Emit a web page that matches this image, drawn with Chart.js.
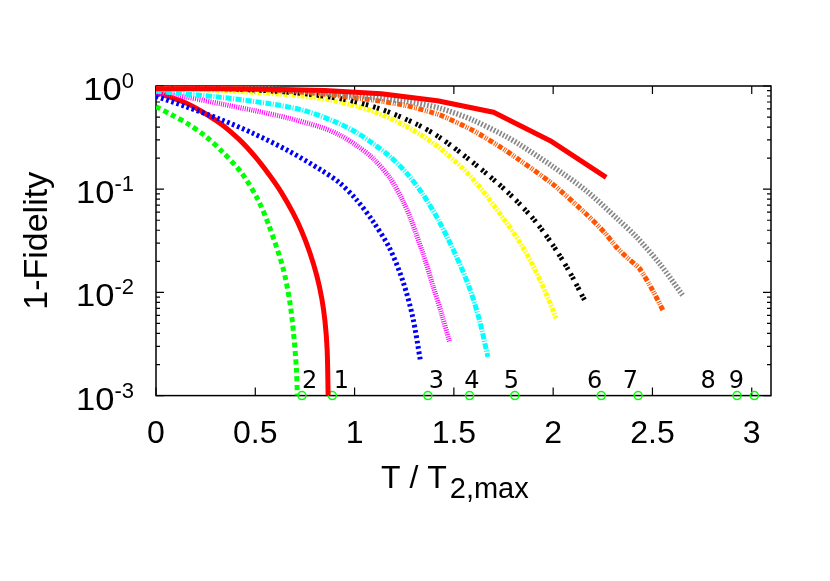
<!DOCTYPE html>
<html><head><meta charset="utf-8">
<script src="https://cdn.jsdelivr.net/npm/chart.js@4.4.1/dist/chart.umd.min.js"></script>
<style>html,body{margin:0;padding:0;background:#fff}#wrap{width:830px;height:581px;position:relative}</style>
</head><body><div id="wrap"><canvas id="c"></canvas></div>
<script>
// ---- tick labels / titles ----
const xTickValues = [0, 0.5, 1, 1.5, 2, 2.5, 3];
const xTickLabels = ['0', '0.5', '1', '1.5', '2', '2.5', '3'];
const yTickValues = [1, 0.1, 0.01, 0.001];
const yTickBase = '10';
const yTickExponents = ['0', '-1', '-2', '-3'];
const xTitleMain = 'T / T';
const xTitleSub = '2,max';
const yTitle = '1-Fidelity';

// ---- series (x = T/T2,max, y = 1-Fidelity) ----
const red1X = [0, 0.145, 0.22, 0.329, 0.42, 0.497, 0.57, 0.631, 0.69, 0.732, 0.774, 0.81, 0.835, 0.851, 0.862, 0.867];
const red1Y = [0.871, 0.692, 0.582, 0.427, 0.302, 0.209, 0.138, 0.0933, 0.0589, 0.0398, 0.0245, 0.01445, 0.0087, 0.00525, 0.00275, 0.00095];

const greenX = [0, 0.08, 0.161, 0.245, 0.329, 0.430, 0.513, 0.572, 0.639, 0.673, 0.693, 0.707, 0.712];
const greenY = [0.631, 0.524, 0.429, 0.331, 0.236, 0.1445, 0.0794, 0.0427, 0.0174, 0.0083, 0.00398, 0.00182, 0.00095];

const blueX = [0, 0.15, 0.32, 0.49, 0.664, 0.832, 0.925, 1.009, 1.092, 1.176, 1.243, 1.293, 1.331];
const blueY = [0.794, 0.631, 0.479, 0.347, 0.237, 0.153, 0.115, 0.0794, 0.049, 0.0269, 0.0129, 0.00575, 0.00221];

const magentaX = [0, 0.161, 0.329, 0.497, 0.664, 0.832, 0.925, 1.009, 1.092, 1.176, 1.243, 1.285, 1.344, 1.394, 1.44, 1.478];
const magentaY = [0.861, 0.776, 0.67, 0.577, 0.49, 0.398, 0.335, 0.266, 0.1995, 0.130, 0.0774, 0.0501, 0.0239, 0.01175, 0.00603, 0.00333];

const cyanX = [0, 0.329, 0.581, 0.748, 0.9, 1.009, 1.092, 1.176, 1.26, 1.344, 1.428, 1.512, 1.579, 1.629, 1.671];
const cyanY = [0.891, 0.776, 0.67, 0.577, 0.452, 0.355, 0.277, 0.209, 0.1445, 0.0891, 0.0479, 0.0224, 0.011, 0.00537, 0.00238];

const yellowX = [0, 0.4, 0.8, 1.0, 1.1, 1.26, 1.428, 1.595, 1.763, 1.847, 1.914, 1.973, 2.015];
const yellowY = [0.955, 0.891, 0.776, 0.646, 0.562, 0.407, 0.251, 0.126, 0.0479, 0.0275, 0.01585, 0.00891, 0.00562];

const blackX = [0, 0.4, 0.7, 0.95, 1.126, 1.31, 1.428, 1.595, 1.763, 1.897, 1.998, 2.082, 2.158];
const blackY = [0.977, 0.933, 0.861, 0.741, 0.603, 0.429, 0.318, 0.182, 0.0966, 0.0525, 0.0288, 0.01585, 0.00843];

const orangeX = [0, 0.5, 0.8, 1.092, 1.26, 1.428, 1.595, 1.763, 1.998, 2.166, 2.258, 2.317, 2.367, 2.434, 2.501, 2.552];
const orangeY = [0.989, 0.933, 0.851, 0.731, 0.646, 0.525, 0.372, 0.236, 0.112, 0.0575, 0.0382, 0.0277, 0.0222, 0.0171, 0.0105, 0.00675];

const greyX = [0, 0.5, 0.925, 1.26, 1.428, 1.595, 1.763, 1.83, 1.998, 2.166, 2.325, 2.418, 2.535, 2.652];
const greyY = [0.993, 0.955, 0.832, 0.708, 0.61, 0.468, 0.324, 0.272, 0.166, 0.0968, 0.0513, 0.0347, 0.0191, 0.0094];

const red2X = [0, 0.283, 0.567, 0.85, 1.134, 1.417, 1.70, 1.985, 2.267];
const red2Y = [0.94, 0.94, 0.93, 0.905, 0.84, 0.72, 0.556, 0.295, 0.130];

// ---- markers on the bottom axis and their labels ----
const markerX = [0.735, 0.888, 1.369, 1.579, 1.807, 2.242, 2.428, 2.926, 3.013];
const markerY = 0.001;
const markerLabels = ['2', '1', '3', '4', '5', '6', '7', '8', '9'];
const markerLabelX = [0.774, 0.934, 1.412, 1.591, 1.790, 2.209, 2.389, 2.780, 2.923];

const pts = (xs, ys) => xs.map((x, i) => ({x: x, y: ys[i]}));

function series(xs, ys, color, width, dash, tension, clip) {
  return {
    type: 'line', data: pts(xs, ys), borderColor: color, backgroundColor: color,
    borderWidth: width, borderDash: dash, borderCapStyle: 'butt', borderJoinStyle: 'round',
    pointRadius: 0, fill: false, tension: tension, clip: clip
  };
}

const FONT = '"Liberation Sans", Arial, Helvetica, sans-serif';

const decor = {
  id: 'decor',
  beforeDatasetsDraw(chart) {
    const ctx = chart.ctx, a = chart.chartArea, xs = chart.scales.x, ys = chart.scales.y;
    ctx.save();
    ctx.strokeStyle = '#000'; ctx.lineWidth = 1.5;
    ctx.strokeRect(a.left, a.top, a.right - a.left, a.bottom - a.top);
    ctx.lineWidth = 1.2;
    ctx.beginPath();
    xTickValues.forEach(v => {
      const px = xs.getPixelForValue(v);
      ctx.moveTo(px, a.bottom); ctx.lineTo(px, a.bottom - 8);
      ctx.moveTo(px, a.top); ctx.lineTo(px, a.top + 8);
    });
    yTickValues.forEach(v => {
      const py = ys.getPixelForValue(v);
      ctx.moveTo(a.left, py); ctx.lineTo(a.left + 8, py);
      ctx.moveTo(a.right, py); ctx.lineTo(a.right - 8, py);
      if (v < 1) {
        for (let m = 2; m <= 9; m++) {
          const pm = ys.getPixelForValue(v * m);
          ctx.moveTo(a.left, pm); ctx.lineTo(a.left + 4, pm);
          ctx.moveTo(a.right, pm); ctx.lineTo(a.right - 4, pm);
        }
      }
    });
    ctx.stroke();
    ctx.restore();
  },
  afterDraw(chart) {
    const ctx = chart.ctx, a = chart.chartArea, xs = chart.scales.x, ys = chart.scales.y;
    ctx.save();
    ctx.fillStyle = '#000';
    // x tick labels
    ctx.font = '32px ' + FONT; ctx.textAlign = 'center'; ctx.textBaseline = 'alphabetic';
    xTickValues.forEach((v, i) => ctx.fillText(xTickLabels[i], xs.getPixelForValue(v), 443));
    // y tick labels 10^n
    yTickValues.forEach((v, i) => {
      const py = ys.getPixelForValue(v);
      const right = 134;
      ctx.font = '22px ' + FONT; ctx.textAlign = 'right';
      const sw = ctx.measureText(yTickExponents[i]).width;
      ctx.fillText(yTickExponents[i], right, py + 2);
      ctx.save();
      ctx.translate(right - sw, py + 14);
      ctx.scale(1.08, 1);
      ctx.font = '32px ' + FONT;
      ctx.fillText(yTickBase, 0, 0);
      ctx.restore();
    });
    // x title with subscript
    ctx.textAlign = 'left';
    ctx.font = '32px ' + FONT;
    const mw = ctx.measureText(xTitleMain).width;
    const tx = 381;
    ctx.fillText(xTitleMain, tx, 488);
    ctx.font = '29px ' + FONT;
    ctx.fillText(xTitleSub, tx + mw + 3, 498);
    // y title
    ctx.save();
    ctx.translate(47, (a.top + a.bottom) / 2);
    ctx.rotate(-Math.PI / 2);
    ctx.font = '34px ' + FONT; ctx.textAlign = 'center';
    ctx.fillText(yTitle, 0, 0);
    ctx.restore();
    // marker labels
    ctx.font = '24px "DejaVu Sans", sans-serif'; ctx.textAlign = 'center';
    const by = ys.getPixelForValue(markerY) - 8;
    markerLabels.forEach((t, i) => ctx.fillText(t, xs.getPixelForValue(markerLabelX[i]), by));
    ctx.restore();
  }
};

new Chart(document.getElementById('c'), {
  type: 'line',
  data: {
    datasets: [
      series(red2X, red2Y, '#ff0000', 5, [], 0, 3),
      series(greyX, greyY, '#888888', 5.5, [1.7, 1.7], 0.3, 0),
      series(orangeX, orangeY, '#ff5500', 5, [5, 1.5, 1, 1, 1, 1.5], 0.2, 0),
      series(blackX, blackY, '#000000', 5, [2.5, 1.5, 2.5, 5], 0.3, 0),
      series(yellowX, yellowY, '#ffff00', 5, [4, 1.5, 1.5, 1.5], 0.3, 0),
      series(cyanX, cyanY, '#00ffff', 5, [6, 1.5, 1, 1.5], 0.3, 0),
      series(magentaX, magentaY, '#ff00ff', 5, [1, 1.2], 0.3, 0),
      series(blueX, blueY, '#0000ff', 5, [2.7, 2.7], 0.3, 0),
      series(red1X, red1Y, '#ff0000', 5, [], 0.3, 0),
      series(greenX, greenY, '#00ff00', 5, [5, 3.5], 0.3, 0),
      {
        type: 'scatter', data: markerX.map(x => ({x: x, y: markerY})),
        showLine: false, pointStyle: 'circle', pointRadius: 4,
        borderColor: '#00ff00', backgroundColor: 'rgba(0,0,0,0)', borderWidth: 1.5,
        pointHoverRadius: 4, clip: false
      }
    ]
  },
  options: {
    responsive: true, maintainAspectRatio: false, animation: false,
    devicePixelRatio: 1,
    layout: {padding: {left: 156, right: 59, top: 86, bottom: 185.4}},
    plugins: {legend: {display: false}, tooltip: {enabled: false}},
    events: [],
    scales: {
      x: {type: 'linear', min: 0, max: 3.097, display: false},
      y: {type: 'logarithmic', min: 0.001, max: 1, display: false}
    }
  },
  plugins: [decor]
});
</script>
</body></html>
